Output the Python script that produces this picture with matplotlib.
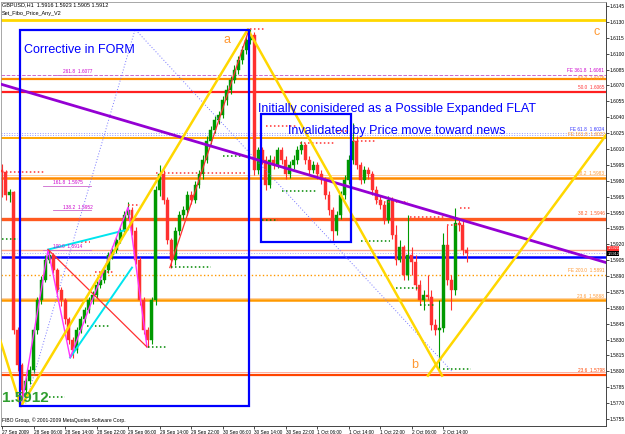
import numpy as np
import matplotlib
matplotlib.use("Agg")
import matplotlib.pyplot as plt
from matplotlib.patches import Rectangle

plt.rcParams['font.family'] = ['Liberation Sans', 'DejaVu Sans']

# GBPUSD H1 candles, bar 0 = 27 Sep 2009 22:00
first_open = 1.5990
closes = [
    1.5988, 1.5967, 1.5969, 1.5839, 1.5806, 1.5782,
    1.5791, 1.5801, 1.5839, 1.5867, 1.5886, 1.5905,
    1.5910, 1.5896, 1.5877, 1.5867, 1.5849, 1.5830,
    1.5820, 1.5839, 1.5849, 1.5858, 1.5867, 1.5872,
    1.5882, 1.5886, 1.5896, 1.5910, 1.5915, 1.5924,
    1.5933, 1.5948, 1.5952, 1.5933, 1.5905, 1.5867,
    1.5839, 1.5830, 1.5867, 1.5971, 1.5986, 1.5962,
    1.5924, 1.5905, 1.5933, 1.5948, 1.5952, 1.5967,
    1.5962, 1.5976, 1.5986, 1.6000, 1.6018, 1.6028,
    1.6037, 1.6042, 1.6056, 1.6066, 1.6075, 1.6085,
    1.6094, 1.6103, 1.6113, 1.6118, 1.5990, 1.6009,
    1.6000, 1.5976, 1.6000, 1.5995, 1.6009, 1.6000,
    1.5986, 1.5995, 1.6000, 1.6009, 1.6014, 1.6000,
    1.5990, 1.5995, 1.5986, 1.5981, 1.5967, 1.5952,
    1.5933, 1.5948, 1.5967, 1.5981, 1.6000, 1.6018,
    1.5995, 1.5981, 1.5990, 1.5986, 1.5971, 1.5962,
    1.5957, 1.5943, 1.5962, 1.5929, 1.5905, 1.5917,
    1.5891, 1.5910, 1.5903, 1.5882, 1.5867, 1.5872,
    1.5870, 1.5844, 1.5839, 1.5841, 1.5919, 1.5886,
    1.5877, 1.5940, 1.5938, 1.5915, 1.5912]
highs = [
    1.5996, 1.5990, 1.5972, 1.5970, 1.5842, 1.5808,
    1.5795, 1.5805, 1.5842, 1.5870, 1.5890, 1.5910,
    1.5915, 1.5912, 1.5898, 1.5880, 1.5869, 1.5851,
    1.5832, 1.5842, 1.5852, 1.5861, 1.5870, 1.5876,
    1.5885, 1.5890, 1.5899, 1.5913, 1.5918, 1.5927,
    1.5937, 1.5951, 1.5960, 1.5955, 1.5936, 1.5908,
    1.5870, 1.5842, 1.5870, 1.5975, 1.5995, 1.5990,
    1.5965, 1.5926, 1.5936, 1.5951, 1.5956, 1.5970,
    1.5970, 1.5980, 1.5990, 1.6004, 1.6022, 1.6032,
    1.6041, 1.6046, 1.6060, 1.6070, 1.6079, 1.6089,
    1.6098, 1.6107, 1.6117, 1.6123, 1.6120, 1.6012,
    1.6012, 1.6003, 1.6004, 1.6003, 1.6012, 1.6012,
    1.6003, 1.5999, 1.6004, 1.6013, 1.6018, 1.6016,
    1.6003, 1.5999, 1.5998, 1.5990, 1.5984, 1.5970,
    1.5955, 1.5951, 1.5970, 1.5985, 1.6004, 1.6035,
    1.6022, 1.5998, 1.5994, 1.5993, 1.5989, 1.5975,
    1.5966, 1.5960, 1.5966, 1.5965, 1.5938, 1.5924,
    1.5919, 1.5948, 1.5917, 1.5910, 1.5886, 1.5877,
    1.5891, 1.5877, 1.5849, 1.5867, 1.5931, 1.5938,
    1.5891, 1.5954, 1.5943, 1.5943, 1.5917]
lows = [
    1.5965, 1.5962, 1.5960, 1.5835, 1.5800, 1.5767,
    1.5778, 1.5788, 1.5798, 1.5835, 1.5864, 1.5884,
    1.5902, 1.5893, 1.5874, 1.5862, 1.5845, 1.5826,
    1.5813, 1.5817, 1.5836, 1.5846, 1.5855, 1.5864,
    1.5869, 1.5879, 1.5883, 1.5893, 1.5906, 1.5912,
    1.5921, 1.5930, 1.5945, 1.5929, 1.5901, 1.5863,
    1.5835, 1.5823, 1.5826, 1.5863, 1.5966, 1.5958,
    1.5920, 1.5898, 1.5900, 1.5929, 1.5944, 1.5948,
    1.5958, 1.5959, 1.5973, 1.5982, 1.5997, 1.6015,
    1.6025, 1.6034, 1.6039, 1.6052, 1.6062, 1.6072,
    1.6081, 1.6090, 1.6100, 1.6109, 1.5985, 1.5986,
    1.5996, 1.5971, 1.5973, 1.5991, 1.5992, 1.5996,
    1.5982, 1.5983, 1.5991, 1.5996, 1.6005, 1.5996,
    1.5986, 1.5987, 1.5982, 1.5977, 1.5963, 1.5948,
    1.5922, 1.5929, 1.5944, 1.5963, 1.5977, 1.5996,
    1.5991, 1.5977, 1.5978, 1.5982, 1.5967, 1.5958,
    1.5953, 1.5939, 1.5940, 1.5925, 1.5900, 1.5903,
    1.5886, 1.5886, 1.5891, 1.5877, 1.5863, 1.5858,
    1.5867, 1.5839, 1.5834, 1.5801, 1.5837, 1.5882,
    1.5858, 1.5872, 1.5933, 1.5910, 1.5903]

xtick_bars = [0, 8, 16, 24, 32, 40, 48, 56, 64, 72, 80, 88, 96, 104, 112]
xtick_labels = ["27 Sep 2009", "28 Sep 06:00", "28 Sep 14:00", "28 Sep 22:00",
                "29 Sep 06:00", "29 Sep 14:00", "29 Sep 22:00", "30 Sep 06:00",
                "30 Sep 14:00", "30 Sep 22:00", "1 Oct 06:00", "1 Oct 14:00",
                "1 Oct 22:00", "2 Oct 06:00", "2 Oct 14:00"]
ytick_prices = [1.5755 + 0.0015 * k for k in range(27)]

# horizontal fibo levels: price, colour, width, style
levels = [
    (1.6132, "#FFD700", 2.0, "-"),
    (1.6080, "#CC66CC", 0.7, "--"),
    (1.6076, "#FF8C00", 1.6, "-"),
    (1.6064, "#FF2020", 1.6, "-"),
    (1.6025, "#9999FF", 0.7, ":"),
    (1.6023, "#9999FF", 0.7, ":"),
    (1.6020, "#FFA500", 1.4, "-"),
    (1.5985, "#FFD0A0", 0.7, "-"),
    (1.5983, "#FF8C00", 1.8, "-"),
    (1.5944, "#FF5a20", 2.4, "-"),
    (1.5915, "#FFA080", 1.0, "-"),
    (1.5912, "#AAAAFF", 0.7, ":"),
    (1.5908, "#0000FF", 1.8, "-"),
    (1.5891, "#FF9900", 1.0, ":"),
    (1.5869, "#FFD0A0", 0.7, "-"),
    (1.5867, "#FF9900", 1.8, "-"),
    (1.5799, "#FFB0A0", 0.7, "-"),
    (1.5797, "#FF4500", 1.6, "-"),
]
level_labels = [
    ("FE 361.8  1.6081", 1.6081, "#CC00CC"),
    ("50.0  1.6075", 1.6074, "#FF9933"),
    ("50.0  1.6065", 1.6065, "#FF3333"),
    ("FE 61.8  1.6024", 1.6025, "#3333FF"),
    ("FE 161.8  1.6022", 1.6021, "#FF9933"),
    ("38.2  1.5983", 1.5984, "#FF9933"),
    ("38.2  1.5946", 1.5946, "#FF5a20"),
    ("FE 200.0  1.5891", 1.5892, "#FF9933"),
    ("23.6  1.5868", 1.5868, "#FF9933"),
    ("23.6  1.5798", 1.5798, "#FF4500"),
]
left_labels = [
    ("261.8  1.6077", 1.6080, 15.5, 22.5),
    ("161.8  1.5975", 1.5975, 13.0, 22.5),
    ("138.2  1.5952", 1.5952, 15.5, 22.5),
    ("100.0  1.5914", 1.5915, 13.0, 22.5),
]

# trend line and zigzags (bar, price)
trend_bars = [-1, 154]
trend_prices = [1.6072, 1.5902]
yellow1_bars = [-0.5, 4.8, 62.4, 111.7]
yellow1_prices = [1.5830, 1.5767, 1.6123, 1.5796]
yellow2_bars = [108.1, 153.3]
yellow2_prices = [1.5796, 1.6023]
dotted_bars = [5.8, 33.8, 114.2]
dotted_prices = [1.5767, 1.6123, 1.5800]
cyan_segs = [([11.7, 32.0], [1.5915, 1.5934]), ([17.3, 33.0], [1.5813, 1.5898])]
magenta_segs = [([5.1, 11.7, 17.3, 32.0, 36.8], [1.5771, 1.5915, 1.5813, 1.5955, 1.5823])]
red_segs = [([11.7, 36.8], [1.5915, 1.5823]), ([42.6, 62.7], [1.5898, 1.6123])]

# boxes: bar0, bar1, price0, price1
boxes = [(4.6, 62.7, 1.5767, 1.6122), (65.7, 88.6, 1.5922, 1.6043)]

# fractal markers: bar0, bar1, price
red_marks = [(63, 66.7, 1.6123), (0, 11, 1.5988), (32, 35, 1.5957), (39, 62, 1.5987),
             (20, 22.3, 1.5922), (23.6, 28.2, 1.5894), (67, 75, 1.6032), (75.6, 84.5, 1.6016),
             (85, 88, 1.6027), (89, 94.7, 1.6018), (95, 103, 1.5960), (103.5, 112.5, 1.5946),
             (113, 115.5, 1.5938), (116.3, 118.8, 1.5954)]
green_marks = [(0, 4, 1.5925), (12, 16, 1.5776), (21.6, 27.4, 1.5843), (37, 42, 1.5823),
               (43, 53, 1.5899), (56, 62, 1.6003), (66, 70, 1.5943), (71, 80, 1.5970),
               (91, 98.5, 1.5923), (100, 106, 1.5879), (106, 110, 1.5863), (112, 119, 1.5802)]

fig = plt.figure(figsize=(6.25, 4.34), dpi=100)
ax = fig.add_axes([1 / 625, 8 / 434, 605 / 625, 424 / 434])
ax.set_xlim(-0.25, 153.3)
ax.set_ylim(1.57484, 1.61488)

for p, c, lw, ls in levels:
    ax.axhline(p, color=c, lw=lw, ls=ls, zorder=1)

for txt, p, c in level_labels:
    ax.text(152.9, p + 0.00006, txt, color=c, fontsize=3.4, ha="right", va="bottom", zorder=6)
for txt, p, x0, x1 in left_labels:
    ax.plot([x0 - 2.5, x1], [p, p], color="#CC66CC", lw=0.6, zorder=2)
    ax.text(x0, p + 0.00006, txt, color="#CC00CC", fontsize=3.4, ha="left", va="bottom", zorder=6)

# candles
opens = [first_open] + closes[:-1]
for i in range(len(closes)):
    o, c, h, l = opens[i], closes[i], highs[i], lows[i]
    col = "#009900" if c >= o else "#FF3030"
    ax.vlines(i, l, h, color=col, lw=0.8, zorder=3)
    ax.bar(i, max(abs(c - o), 0.00005), 0.75, bottom=min(o, c), color=col,
           edgecolor=col, lw=0.3, zorder=4)

for b0, b1, p in red_marks:
    ax.plot([b0, b1], [p, p], color="#FF3030", lw=1.1, ls=(0, (1, 1.6)), zorder=5)
for b0, b1, p in green_marks:
    ax.plot([b0, b1], [p, p], color="#008800", lw=1.1, ls=(0, (1, 1.6)), zorder=5)

ax.plot(dotted_bars, dotted_prices, color="#7777FF", lw=0.7, ls=(0, (1, 2)), zorder=5)
for bx, pr in cyan_segs:
    ax.plot(bx, pr, color="#00E5EE", lw=1.4, zorder=5)
for bx, pr in magenta_segs:
    ax.plot(bx, pr, color="#FF33FF", lw=1.0, zorder=5)
for bx, pr in red_segs:
    ax.plot(bx, pr, color="#FF3030", lw=0.9, zorder=5)
ax.plot(trend_bars, trend_prices, color="#9400D3", lw=2.0, zorder=6)
ax.plot(yellow1_bars, yellow1_prices, color="#FFD700", lw=1.8, zorder=6)
ax.plot(yellow2_bars, yellow2_prices, color="#FFD700", lw=1.8, zorder=6)

for b0, b1, p0, p1 in boxes:
    ax.add_patch(Rectangle((b0, p0), b1 - b0, p1 - p0, fill=False,
                           edgecolor="#0000FF", lw=1.6, zorder=7))

ax.text(5.6, 1.6103, "Corrective in FORM", color="#0000FF", fontsize=9, ha="left", va="center", zorder=8)
ax.text(65.0, 1.6048, "Initially conisidered as a Possible Expanded FLAT", color="#0000FF",
        fontsize=9, ha="left", va="center", zorder=8)
ax.text(72.5, 1.6027, "Invalidated by Price move toward news", color="#0000FF",
        fontsize=9, ha="left", va="center", zorder=8)
ax.text(57.2, 1.6113, "a", color="#FF9933", fontsize=9, ha="center", va="center", zorder=8)
ax.text(104.8, 1.5806, "b", color="#FF9933", fontsize=9, ha="center", va="center", zorder=8)
ax.text(151.0, 1.6120, "c", color="#FF9933", fontsize=9, ha="center", va="center", zorder=8)
ax.text(0.0, 1.5775, "1.5912", color="#2E9E2E", fontsize=11, fontweight="bold",
        ha="left", va="center", zorder=8)

fig.text(2 / 625, 1 - 5 / 434, "GBPUSD,H1  1.5916 1.5923 1.5905 1.5912", fontsize=4, va="center")
fig.text(2 / 625, 1 - 14 / 434, "Set_Fibo_Price_Any_V2", fontsize=4, va="center")
fig.text(2 / 625, 1 - 420 / 434, "FIBO Group, \u00a9 2001-2009 MetaQuotes Software Corp.",
         fontsize=3.6, va="center")

# price boxes on axis
ax.text(153.6, 1.59162, "1.5921", color="white", fontsize=2.8, va="center", ha="left",
        bbox=dict(boxstyle="square,pad=0.05", fc="#FF3030", ec="none"), clip_on=False, zorder=9)
ax.text(153.6, 1.59112, "1.5912", color="white", fontsize=2.8, va="center", ha="left",
        bbox=dict(boxstyle="square,pad=0.05", fc="black", ec="none"), clip_on=False, zorder=9)

ax.yaxis.tick_right()
ax.set_yticks(ytick_prices)
ax.set_yticklabels(["%.4f" % p for p in ytick_prices], fontsize=3.5)
ax.set_xticks(xtick_bars)
ax.set_xticklabels(xtick_labels, fontsize=3.4, ha="left")
ax.tick_params(axis="both", length=2, width=0.5, pad=0.8)
for s in ["top", "left"]:
    ax.spines[s].set_color("#999999")
    ax.spines[s].set_linewidth(0.6)
for s in ["right", "bottom"]:
    ax.spines[s].set_color("#444444")
    ax.spines[s].set_linewidth(0.7)

fig.savefig("out.png", dpi=100, facecolor="white")
